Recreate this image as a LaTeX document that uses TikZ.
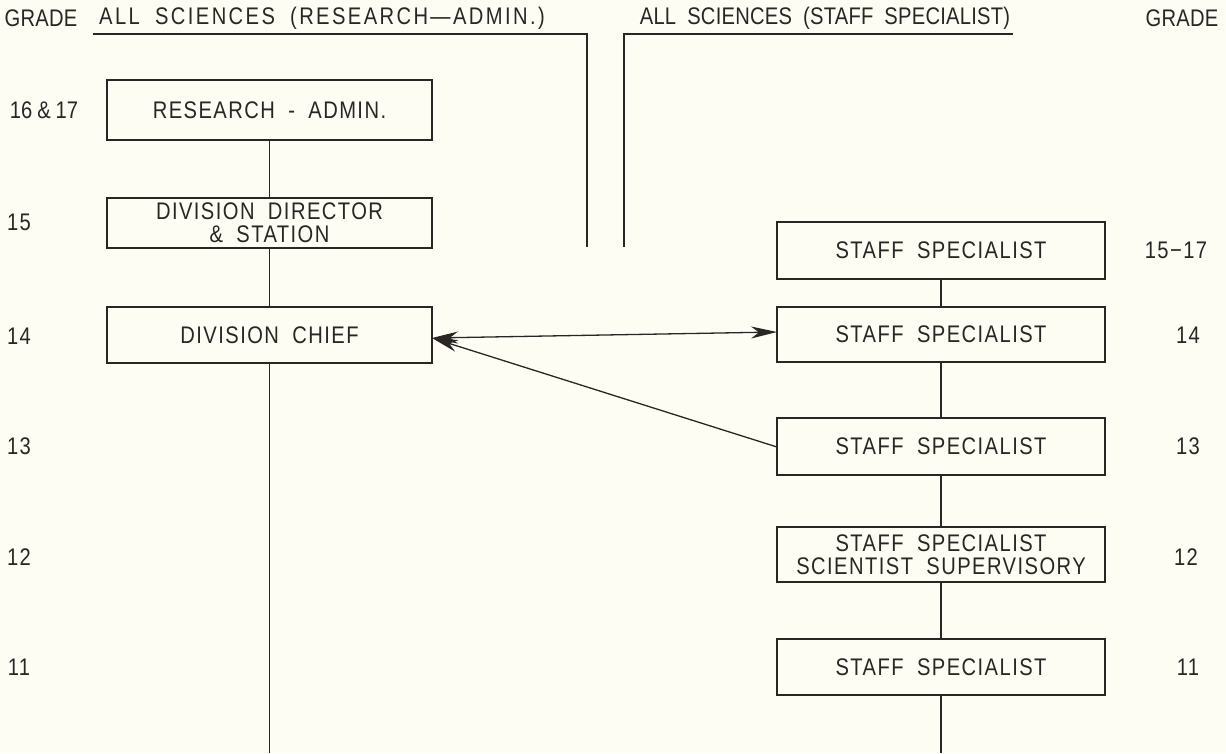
\documentclass[tikz,border=0pt]{standalone}
\usepackage{fontspec}
\setmainfont{Liberation Sans}[FakeStretch=0.84, LetterSpace=6, WordSpace=1.9]
\usetikzlibrary{arrows.meta}
\definecolor{bg}{HTML}{FDFDF4}
\definecolor{ink}{HTML}{2A2626}
\begin{document}
\begin{tikzpicture}[x=1pt,y=-1pt,
  every node/.style={text=ink, font=\fontsize{24}{23}\selectfont, inner sep=0pt},
  box/.style={draw=ink, line width=1.4pt, align=center, anchor=center},
  lbox/.style={box, minimum width=325pt},
  rbox/.style={box, minimum width=328pt},
  ln/.style={draw=ink, line width=1.3pt},
  arr/.style={ln, line width=1.3pt, -{Stealth[length=26pt,width=12pt,inset=8pt]}},
  lbl/.style={anchor=center}]
\fill[bg] (0,0) rectangle (1226,753);
\useasboundingbox (0,0) rectangle (1226,753);
% headers
\node[lbl] (g1) at (41,18) {\addfontfeature{LetterSpace=1}GRADE};
\node[lbl] (h1) at (322,18) {\addfontfeature{LetterSpace=10}ALL SCIENCES (RESEARCH—ADMIN.)};
\node[lbl] (h2) at (825,18) {\addfontfeature{LetterSpace=1}ALL SCIENCES (STAFF SPECIALIST)};
\node[lbl] (g2) at (1182,18) {\addfontfeature{LetterSpace=1}GRADE};
\coordinate (u1a) at (93,34);
\coordinate (u1b) at (587,34);
\coordinate (u1c) at (587,247);
\coordinate (u2a) at (624,247);
\coordinate (u2b) at (624,34);
\coordinate (u2c) at (1013,34);
\draw[ln] (u1a) -- (u1b) -- (u1c);
\draw[ln] (u2a) -- (u2b) -- (u2c);
% left grades
\node[lbl] (l16) at (44,110) {\addfontfeature{LetterSpace=0}16\hspace{5pt}\&\hspace{5pt}17};
\node[lbl] (l15) at (19,222) {15};
\node[lbl] (l14) at (19,336) {14};
\node[lbl] (l13) at (19,446) {13};
\node[lbl] (l12) at (19,557) {12};
\node[lbl] (l11) at (19,667) {11};
% right grades
\node[lbl] (r15) at (1176,250) {15−17};
\node[lbl] (r14) at (1188,335) {14};
\node[lbl] (r13) at (1188,446) {13};
\node[lbl] (r12) at (1186,557) {12};
\node[lbl] (r11) at (1188,667) {11};
% left boxes
\node[lbox, minimum height=60pt] (ra) at (269.5,110) {RESEARCH - ADMIN.};
\node[lbox, minimum height=50pt] (dd) at (269.5,223) {DIVISION DIRECTOR\\\& STATION};
\node[lbox, minimum height=56pt] (dc) at (269.5,335) {DIVISION CHIEF};
% right boxes
\node[rbox, minimum height=57pt] (s15) at (941,250.5) {STAFF SPECIALIST};
\node[rbox, minimum height=55pt] (s14) at (941,334.5) {STAFF SPECIALIST};
\node[rbox, minimum height=57pt] (s13) at (941,446.5) {STAFF SPECIALIST};
\node[rbox, minimum height=55pt] (s12) at (941,554.5) {STAFF SPECIALIST\\SCIENTIST SUPERVISORY};
\node[rbox, minimum height=56pt] (s11) at (941,667) {STAFF SPECIALIST};
\coordinate (lend) at (269.5,753);
\coordinate (rend) at (941,753);
% vertical connectors
\draw[ln] (ra.south) -- (dd.north);
\draw[ln] (dd.south) -- (dc.north);
\draw[ln] (dc.south) -- (lend);
\draw[ln] (s15.south) -- (s14.north);
\draw[ln] (s14.south) -- (s13.north);
\draw[ln] (s13.south) -- (s12.north);
\draw[ln] (s12.south) -- (s11.north);
\draw[ln] (s11.south) -- (rend);
% arrows
\coordinate (dcr) at (432,338);
\coordinate (s14l) at (777,332);
\coordinate (s13l) at (777,447);
\draw[arr, {Stealth[length=26pt,width=12pt,inset=8pt]}-{Stealth[length=26pt,width=12pt,inset=8pt]}] (dcr) -- (s14l);
\draw[arr] (s13l) -- (dcr);
\end{tikzpicture}
\end{document}
